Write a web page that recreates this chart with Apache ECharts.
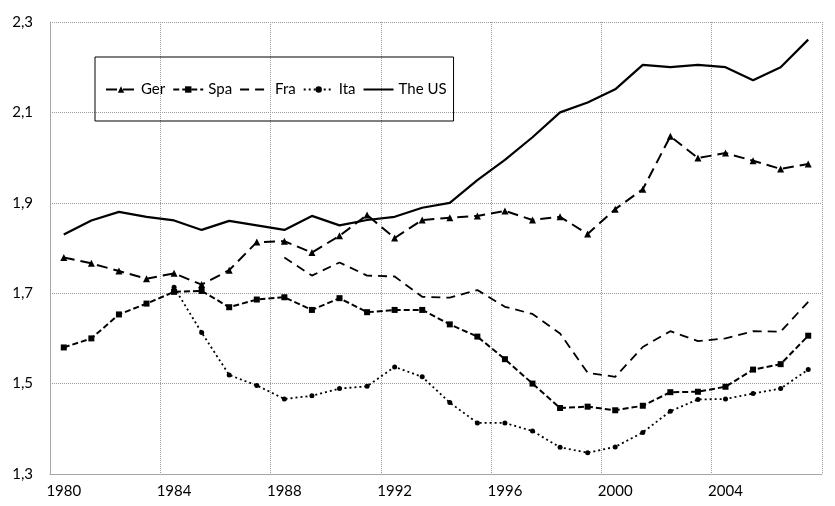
<!DOCTYPE html>
<html>
<head>
<meta charset="utf-8">
<script src="https://cdn.jsdelivr.net/npm/echarts@6/dist/echarts.min.js"></script>
<style>html,body{margin:0;padding:0;background:#fff;}#c{width:835px;height:506px;}</style>
</head>
<body>
<div id="c"></div>
<script>
const years = ['1980','1981','1982','1983','1984','1985','1986','1987','1988','1989','1990','1991','1992','1993','1994','1995','1996','1997','1998','1999','2000','2001','2002','2003','2004','2005','2006','2007'];
const ger = [1.779,1.766,1.749,1.732,1.744,1.719,1.751,1.813,1.815,1.790,1.827,1.873,1.822,1.862,1.867,1.871,1.882,1.862,1.869,1.831,1.886,1.930,2.047,1.999,2.010,1.993,1.975,1.986];
const spa = [1.580,1.600,1.653,1.677,1.703,1.705,1.669,1.686,1.691,1.663,1.689,1.658,1.663,1.663,1.631,1.604,1.554,1.500,1.446,1.449,1.441,1.451,1.481,1.482,1.493,1.531,1.543,1.606];
const fra = [null,null,null,null,null,null,null,null,1.779,1.739,1.768,1.739,1.737,1.692,1.690,1.707,1.670,1.654,1.611,1.524,1.515,1.581,1.616,1.594,1.600,1.616,1.615,1.681];
const ita = [null,null,null,null,1.713,1.613,1.519,1.496,1.466,1.473,1.489,1.494,1.537,1.515,1.458,1.413,1.413,1.395,1.359,1.347,1.360,1.392,1.439,1.465,1.466,1.478,1.489,1.531];
const us = [1.830,1.861,1.880,1.869,1.861,1.840,1.860,1.850,1.840,1.871,1.850,1.862,1.869,1.889,1.900,1.950,1.995,2.045,2.100,2.122,2.151,2.205,2.200,2.205,2.200,2.171,2.200,2.261];
const yTicks = {min: 1.3, max: 2.3, step: 0.2};

const chart = echarts.init(document.getElementById('c'));
const FONT = 'Lato';
const BLK = '#000';
chart.setOption({
  animation: false,
  backgroundColor: '#fff',
  textStyle: {fontFamily: FONT},
  grid: {left: 50, right: 13, top: 22, bottom: 32},
  legend: {
    left: 95, top: 57,
    padding: [25, 7, 24, 10],
    borderColor: '#000', borderWidth: 1,
    itemWidth: 30, itemHeight: 8, itemGap: 7,
    textStyle: {fontFamily: FONT, fontSize: 15, color: '#000'},
    data: [
      {name: 'Ger'}, {name: 'Spa'},
      {name: 'Fra', itemStyle: {opacity: 0}},
      {name: 'Ita'},
      {name: 'The US', itemStyle: {opacity: 0}}
    ]
  },
  xAxis: {
    type: 'category', data: years, boundaryGap: true,
    axisLine: {lineStyle: {color: '#a6a6a6', width: 1}},
    axisTick: {show: false},
    axisLabel: {interval: 3, color: '#000', fontSize: 15, fontFamily: FONT, margin: 10},
    splitLine: {show: true, interval: 3, lineStyle: {color: '#9a9a9a', type: [1, 1], width: 1}}
  },
  yAxis: {
    type: 'value', min: yTicks.min, max: yTicks.max, interval: yTicks.step,
    axisLine: {show: true, lineStyle: {color: '#a6a6a6', width: 1}},
    axisTick: {show: false},
    axisLabel: {color: '#000', fontSize: 15, fontFamily: FONT, margin: 17,
      formatter: v => v.toFixed(1).replace('.', ',')},
    splitLine: {show: true, lineStyle: {color: '#9a9a9a', type: [1, 1], width: 1}}
  },
  series: [
    {name: 'Ger', type: 'line', data: ger, symbol: 'triangle', symbolSize: 7,
      itemStyle: {color: BLK}, lineStyle: {color: BLK, width: 2, type: [11, 6]}},
    {name: 'Spa', type: 'line', data: spa, symbol: 'rect', symbolSize: 6,
      itemStyle: {color: BLK}, lineStyle: {color: BLK, width: 2, type: [6, 3]}},
    {name: 'Fra', type: 'line', data: fra, symbol: 'none', showSymbol: false,
      itemStyle: {color: BLK}, lineStyle: {color: BLK, width: 1.8, type: [9, 6]}},
    {name: 'Ita', type: 'line', data: ita, symbol: 'circle', symbolSize: 5,
      itemStyle: {color: BLK}, lineStyle: {color: BLK, width: 1.8, type: [2, 3]}},
    {name: 'The US', type: 'line', data: us, symbol: 'none', showSymbol: false,
      itemStyle: {color: BLK}, lineStyle: {color: BLK, width: 2.2, type: 'solid'}}
  ]
});
</script>
</body>
</html>
